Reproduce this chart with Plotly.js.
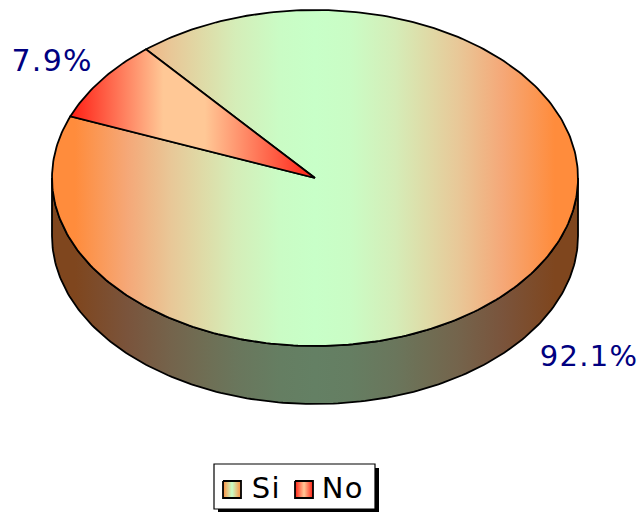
<!DOCTYPE html>
<html><head><meta charset="utf-8">
<script src="https://cdn.plot.ly/plotly-3.0.1.min.js"></script>
<style>html,body{margin:0;padding:0;background:#fff}#c{width:643px;height:513px}
.annotation text{letter-spacing:1.3px}</style>
</head><body><div id="c"></div>
<script>
const categories=['Si','No'];
const percents=[92.1,7.9];
const percentLabels=['92.1%','7.9%'];
// drawing frame of the tilted pie
const cx=315,cy=178,rx=263,ry=168,depth=58,noStart=130;
const siStops=[[0,'#FF8C3C'],[0.044,'#FF8C3C'],[0.144,'#F5A878'],[0.228,'#E8C898'],[0.291,'#DEDCA8'],[0.348,'#D5EDB8'],[0.433,'#CAFCC5'],[0.5,'#C8FFC8'],[0.567,'#CAFCC5'],[0.652,'#D5EDB8'],[0.709,'#DEDCA8'],[0.772,'#E8C898'],[0.856,'#F5A878'],[0.956,'#FF8C3C'],[1,'#FF8C3C']];
const noStops=[[0,'#FF1E14'],[0.38,'#FFC896'],[0.55,'#FFC896'],[1,'#FF1E14']];
const wallStops=[[0,'#7F461E'],[0.044,'#7F461E'],[0.144,'#7A543C'],[0.228,'#74644C'],[0.291,'#6F6E54'],[0.348,'#6A765C'],[0.433,'#657E62'],[0.5,'#648064'],[0.567,'#657E62'],[0.652,'#6A765C'],[0.709,'#6F6E54'],[0.772,'#74644C'],[0.856,'#7A543C'],[0.956,'#7F461E'],[1,'#7F461E']];
const lineStyle={color:'#000',width:1.8};

function arc(a0,a1,dy){ // a in degrees counterclockwise, screen y grows downward
  const n=Math.max(2,Math.ceil(Math.abs(a1-a0)));
  const xs=[],ys=[];
  for(let i=0;i<=n;i++){const t=(a0+(a1-a0)*i/n)*Math.PI/180;
    xs.push(cx+rx*Math.cos(t));ys.push(cy-ry*Math.sin(t)+(dy||0));}
  return [xs,ys];
}
function wedge(a0,a1){const [x,y]=arc(a0,a1);return [[cx,...x,cx],[cy,...y,cy]];}
function fillTrace(x,y,stops,start,stop,name){
  return {type:'scatter',mode:'lines',x,y,fill:'toself',name,line:lineStyle,hoverinfo:'skip',showlegend:false,
    fillgradient:{type:'horizontal',colorscale:stops,start,stop}};
}
const noSweep=percents[1]*3.6, siSweep=percents[0]*3.6;
const noEnd=noStart+noSweep;
// side wall: lower half of the rim, shifted down by the depth
const [wTopX,wTopY]=arc(180,360,0);
const [wBotX,wBotY]=arc(360,180,depth);
const wall=fillTrace([...wTopX,...wBotX,wTopX[0]],[...wTopY,...wBotY,wTopY[0]],wallStops,cx-rx,cx+rx,'wall');
const [siX,siY]=wedge(noStart,noStart-siSweep);
const [noX,noY]=wedge(noStart,noEnd);
const si=fillTrace(siX,siY,siStops,cx-rx,cx+rx,categories[0]);
const no=fillTrace(noX,noY,noStops,cx-rx*0.93,cx,categories[1]);

// legend
const legendSwatchX=[223,295],swatchW=18,swatchTop=481,swatchBot=498;
const swatches=categories.map((c,i)=>{
  const x0=legendSwatchX[i],x1=x0+swatchW;
  return fillTrace([x0,x1,x1,x0,x0],[swatchTop,swatchTop,swatchBot,swatchBot,swatchTop],i?[[0,'#FF1E14'],[0.5,'#FFC896'],[1,'#FF1E14']]:[[0,'#FF8C3C'],[0.5,'#C8FFC8'],[1,'#FF8C3C']],x0,x1,c+' key');
});

const font={family:'"DejaVu Sans",Verdana,sans-serif'};
const layout={
  width:643,height:513,margin:{l:0,r:0,t:0,b:0},paper_bgcolor:'#fff',plot_bgcolor:'#fff',showlegend:false,
  xaxis:{range:[0,643],visible:false,fixedrange:true},
  yaxis:{range:[513,0],visible:false,fixedrange:true},
  shapes:[
    {type:'rect',xref:'x',yref:'y',x0:218,y0:468,x1:379,y1:512,fillcolor:'#000',line:{width:0},layer:'below'},
    {type:'rect',xref:'x',yref:'y',x0:214,y0:464,x1:375,y1:509,fillcolor:'#fff',line:{color:'#000',width:1.2},layer:'below'}
  ],
  annotations:[
    {x:589,y:356,text:percentLabels[0],font:{...font,size:29,color:'#000080'}},
    {x:52,y:60,text:percentLabels[1],font:{...font,size:30,color:'#000080'}},
    {x:265.5,y:488,text:categories[0],font:{...font,size:29,color:'#000'}},
    {x:342.5,y:488,text:categories[1],font:{...font,size:29,color:'#000'}}
  ].map(a=>({...a,xref:'x',yref:'y',showarrow:false,xanchor:'center',yanchor:'middle'}))
};
Plotly.newPlot('c',[wall,si,no,...swatches],layout,{displayModeBar:false,staticPlot:true});
</script></body></html>
